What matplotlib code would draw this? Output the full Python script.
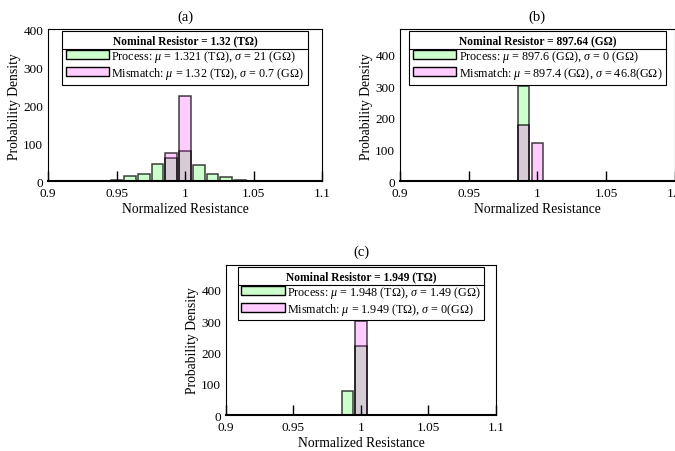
import matplotlib
matplotlib.use('Agg')
import matplotlib.pyplot as plt
from matplotlib.patches import Patch
from matplotlib.lines import Line2D
from matplotlib import rcParams

rcParams['font.family'] = 'Liberation Serif'
rcParams['mathtext.fontset'] = 'custom'
rcParams['mathtext.rm'] = 'Liberation Serif'
rcParams['mathtext.it'] = 'Liberation Serif:italic'
rcParams['mathtext.bf'] = 'Liberation Serif:bold'

# data (bin centres in normalized resistance, density)
centers_a = [0.95, 0.96, 0.97, 0.98, 0.99, 1.00, 1.01, 1.02, 1.03, 1.04]
process_a = [2, 13, 20, 45, 62, 80, 43, 20, 12, 4]
mism_centers_a = [0.99, 1.00]
mismatch_a = [75, 225]

centers_b = [0.99]
process_b = [300]
mism_centers_b = [0.99, 1.00]
mismatch_b = [178, 122]

centers_c = [0.95, 0.96, 0.97, 0.98, 0.99, 1.00, 1.01, 1.02, 1.03, 1.04]
process_c = [0, 0, 0, 0, 78, 222, 0, 0, 0, 0]
mism_centers_c = [1.00]
mismatch_c = [300]

titles = ['(a)', '(b)', '(c)']
headers = ['Nominal Resistor = 1.32 (T\u03a9)',
           'Nominal Resistor = 897.64 (G\u03a9)',
           'Nominal Resistor = 1.949 (T\u03a9)']
proc_labels = ['Process: $\\mu$ = 1.321 (T\u03a9), $\\sigma$ = 21 (G\u03a9)',
               'Process: $\\mu$ = 897.6 (G\u03a9), $\\sigma$ = 0 (G\u03a9)',
               'Process: $\\mu$ = 1.948 (T\u03a9), $\\sigma$ = 1.49 (G\u03a9)']
mism_labels = ['Mismatch: $\\mu$ = 1.32 (T\u03a9), $\\sigma$ = 0.7 (G\u03a9)',
               'Mismatch: $\\mu$ = 897.4 (G\u03a9), $\\sigma$ = 46.8(G\u03a9)',
               'Mismatch: $\\mu$ = 1.949 (T\u03a9), $\\sigma$ = 0(G\u03a9)']
ylims = [400, 480, 480]
xticks = [0.9, 0.95, 1.0, 1.05, 1.1]
xticklabels = ['0.9', '0.95', '1', '1.05', '1.1']

green = (0, 1, 0, 0.2)
pink = (1, 0, 1, 0.2)
edge = (0, 0, 0, 0.75)
width = 0.0085

fig = plt.figure(figsize=(6.75, 4.52), dpi=100)
axes = [fig.add_axes([0.0711, 0.597, 0.406, 0.336]),
        fig.add_axes([0.5926, 0.597, 0.407, 0.336]),
        fig.add_axes([0.3348, 0.0796, 0.400, 0.332])]

data = [(centers_a, process_a, mism_centers_a, mismatch_a),
        (centers_b, process_b, mism_centers_b, mismatch_b),
        (centers_c, process_c, mism_centers_c, mismatch_c)]

legends = []
for i, ax in enumerate(axes):
    pc, pv, mc, mv = data[i]
    ax.bar(pc, pv, width=width, color=green, edgecolor=edge, linewidth=1.1)
    ax.bar(mc, mv, width=width, color=pink, edgecolor=edge, linewidth=1.1)
    ax.set_xlim(0.9, 1.1)
    ax.set_ylim(0, ylims[i])
    ax.set_xticks(xticks)
    ax.set_xticklabels(xticklabels)
    ax.set_yticks([0, 100, 200, 300, 400])
    ax.tick_params(axis='x', direction='in', length=7, width=1.0,
                   labelsize=9.5, pad=4.5)
    ax.tick_params(axis='y', length=0, labelsize=9.5, pad=3.5)
    for s in ['top', 'right', 'left']:
        ax.spines[s].set_linewidth(0.8)
    ax.spines['bottom'].set_linewidth(1.5)
    ax.set_xlabel('Normalized Resistance', fontsize=9.8, labelpad=2)
    ax.set_ylabel('Probability Density', fontsize=9.8, labelpad=1.5)
    ax.set_title(titles[i], fontsize=10.5, pad=7)
    handles = [Patch(facecolor=green, edgecolor='k', linewidth=1.0),
               Patch(facecolor=pink, edgecolor='k', linewidth=1.0)]
    leg = ax.legend(handles, [proc_labels[i], mism_labels[i]],
                    loc='upper center', fontsize=8.7, title=headers[i],
                    title_fontproperties={'weight': 'bold', 'size': 8.3},
                    fancybox=False, edgecolor='k', framealpha=1,
                    handlelength=3.6, handleheight=0.75, handletextpad=0.2,
                    labelspacing=0.1, borderpad=0.3, borderaxespad=0.15)
    leg.get_frame().set_linewidth(0.8)
    legends.append(leg)

# separator line between header and entries
fig.canvas.draw()
inv = fig.transFigure.inverted()
for leg in legends:
    fb = leg.get_frame().get_window_extent()
    tb = leg.get_title().get_window_extent()
    y = tb.y0 - 2.5
    p0 = inv.transform((fb.x0, y))
    p1 = inv.transform((fb.x1, y))
    fig.add_artist(Line2D([p0[0], p1[0]], [p0[1], p1[1]], color='k', lw=0.8,
                          transform=fig.transFigure, zorder=10))

fig.savefig('out.png', dpi=100)
